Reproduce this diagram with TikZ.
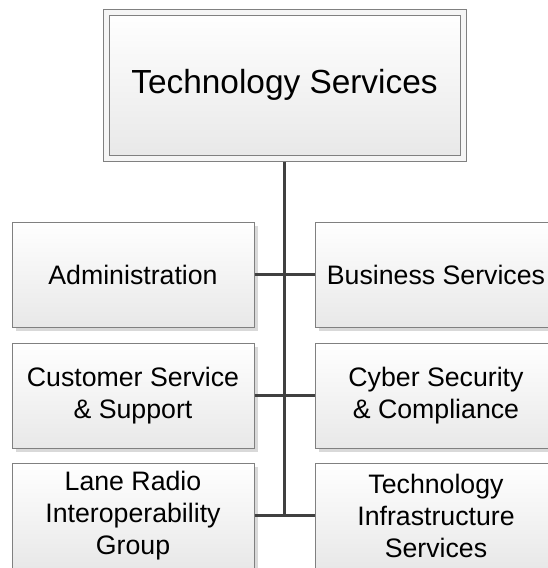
\documentclass[tikz,border=0pt]{standalone}
\usepackage{fontspec}
\setmainfont{Liberation Sans}
\usetikzlibrary{shadows}
\begin{document}
\begin{tikzpicture}[x=1pt, y=-1pt,
	unit/.style = {draw=black!50, line width=1pt, top color=white, bottom color=black!9,
		drop shadow={shadow xshift=4pt, shadow yshift=-4pt, fill=black!15, opacity=1},
		minimum width=242pt, minimum height=105pt, inner sep=0pt, align=center,
		font=\fontsize{26.7}{32}\selectfont},
	head/.style = {unit, double=black!4, double distance=5pt, minimum width=357pt, minimum height=146pt,
		font=\fontsize{33.4}{40}\selectfont},
	link/.style = {draw=black!75, line width=3pt}]
	\useasboundingbox (0,0) rectangle (548,568);
	
	\node[head] (top) at (284.5,85) {Technology Services};
	
	\node[unit] (admin) at (133,274.5) {Administration};
	\node[unit] (business) at (436,274.5) {Business Services};
	\node[unit] (customer) at (133,395.5) {Customer Service\\\& Support};
	\node[unit] (cyber) at (436,395.5) {Cyber Security\\\& Compliance};
	\node[unit] (lane) at (133,515.5) {Lane Radio\\Interoperability\\Group};
	\node[unit] (infra) at (436,515.5) {Technology\\Infrastructure\\Services};
	
	\coordinate (end) at (top.south |- lane.east);
	
	\draw[link] ([yshift=-3pt]top.south) -- (end);
	\draw[link] (admin.east) -- (business.west);
	\draw[link] (customer.east) -- (cyber.west);
	\draw[link] (lane.east) -- (infra.west);
	
\end{tikzpicture}
\end{document}
